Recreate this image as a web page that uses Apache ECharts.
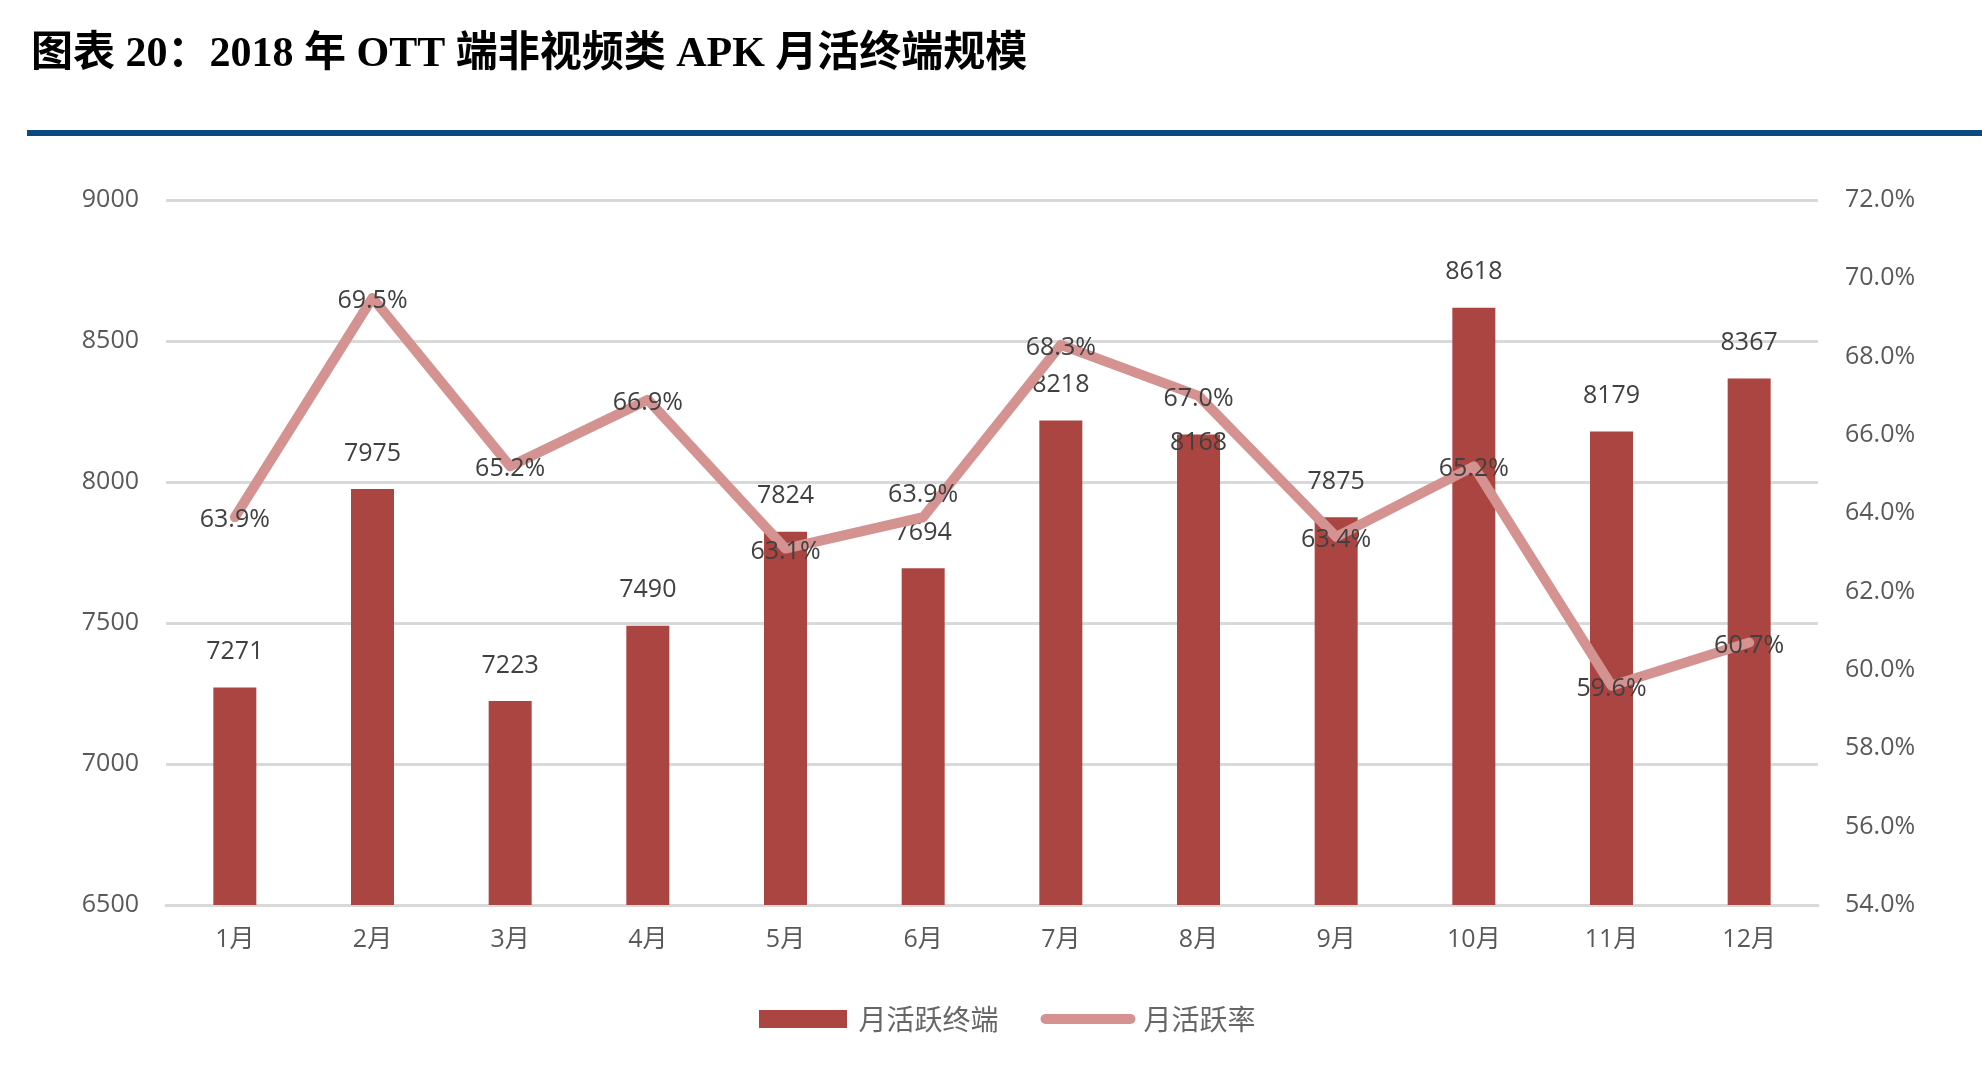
<!DOCTYPE html>
<html>
<head>
<meta charset="utf-8">
<script src="https://cdn.jsdelivr.net/npm/echarts@6/dist/echarts.min.js"></script>
<style>
  html, body { margin: 0; padding: 0; background: #fff; }
  #chart { width: 1982px; height: 1070px; }
</style>
</head>
<body>
<div id="chart"></div>
<script>
const months = ['1月', '2月', '3月', '4月', '5月', '6月', '7月', '8月', '9月', '10月', '11月', '12月'];
const activeTerminals = [7271, 7975, 7223, 7490, 7824, 7694, 8218, 8168, 7875, 8618, 8179, 8367];
const activeRate = [63.9, 69.5, 65.2, 66.9, 63.1, 63.9, 68.3, 67.0, 63.4, 65.2, 59.6, 60.7];

const BAR_COLOR = '#ab4542';
const LINE_COLOR = '#d49290';
const labelFont = "'Open Sans', 'Noto Sans CJK SC', sans-serif";

// a couple of labels were nudged by hand in the original to dodge overlaps
const barLabelOffset = { 7: [0, 44] };
const lineLabelOffset = { 5: [0, -22] };

const chart = echarts.init(document.getElementById('chart'));

const option = {
  backgroundColor: '#fff',
  animation: false,
  title: {
    text: '图表 20：2018 年 OTT 端非视频类 APK 月活终端规模',
    left: 26,
    top: 29,
    textStyle: {
      fontFamily: "'Liberation Serif', 'Noto Sans CJK SC', serif",
      fontWeight: 'bold',
      fontSize: 42,
      color: '#000'
    }
  },
  graphic: [
    {
      type: 'rect',
      left: 27,
      top: 130,
      shape: { width: 1960, height: 6 },
      style: { fill: '#0b4a80' }
    }
  ],
  legend: {
    left: 754,
    top: 1000,
    itemWidth: 95,
    itemHeight: 18,
    itemGap: 42,
    textStyle: {
      fontFamily: "'Noto Sans CJK SC', sans-serif",
      fontSize: 28,
      color: '#666666',
      padding: [0, 0, 0, 3]
    },
    data: [
      { name: '月活跃终端', icon: 'path://M0,0 L88,0 L88,18 L0,18 Z' },
      { name: '月活跃率', icon: 'path://M5,0 L90,0 A5,5 0 0 1 90,10 L5,10 A5,5 0 0 1 5,0 Z' }
    ]
  },
  grid: {
    left: 166,
    right: 164,
    top: 200,
    bottom: 165
  },
  xAxis: {
    type: 'category',
    data: months,
    axisTick: { show: false },
    axisLine: { lineStyle: { color: '#d9d9d9', width: 3 } },
    axisLabel: {
      margin: 22,
      fontFamily: labelFont,
      fontSize: 25,
      color: '#595959'
    }
  },
  yAxis: [
    {
      type: 'value',
      min: 6500,
      max: 9000,
      interval: 500,
      axisLine: { show: false },
      axisTick: { show: false },
      splitLine: { lineStyle: { color: '#d9d9d9', width: 3 } },
      axisLabel: {
        margin: 27,
        fontFamily: labelFont,
        fontSize: 25,
        color: '#595959',
        formatter: v => String(v)
      }
    },
    {
      type: 'value',
      min: 54,
      max: 72,
      interval: 2,
      axisLine: { show: false },
      axisTick: { show: false },
      splitLine: { show: false },
      axisLabel: {
        margin: 27,
        fontFamily: labelFont,
        fontSize: 25,
        color: '#595959',
        formatter: v => v.toFixed(1) + '%'
      }
    }
  ],
  series: [
    {
      name: '月活跃终端',
      type: 'bar',
      data: activeTerminals.map((v, i) => barLabelOffset[i]
        ? { value: v, label: { offset: barLabelOffset[i] } }
        : v),
      barWidth: 43,
      itemStyle: { color: BAR_COLOR },
      label: {
        show: true,
        position: 'top',
        distance: 23,
        fontFamily: labelFont,
        fontSize: 25,
        color: '#404040'
      }
    },
    {
      name: '月活跃率',
      type: 'line',
      yAxisIndex: 1,
      data: activeRate.map((v, i) => lineLabelOffset[i]
        ? { value: v, label: { offset: lineLabelOffset[i] } }
        : v),
      symbol: 'circle',
      symbolSize: 1,
      itemStyle: { color: LINE_COLOR },
      lineStyle: { color: LINE_COLOR, width: 10, cap: 'round', join: 'round' },
      label: {
        show: true,
        position: 'inside',
        offset: [0, 3],
        fontFamily: labelFont,
        fontSize: 25,
        color: '#404040',
        formatter: p => p.value.toFixed(1) + '%'
      },
      z: 3
    }
  ]
};

chart.setOption(option);
</script>
</body>
</html>
